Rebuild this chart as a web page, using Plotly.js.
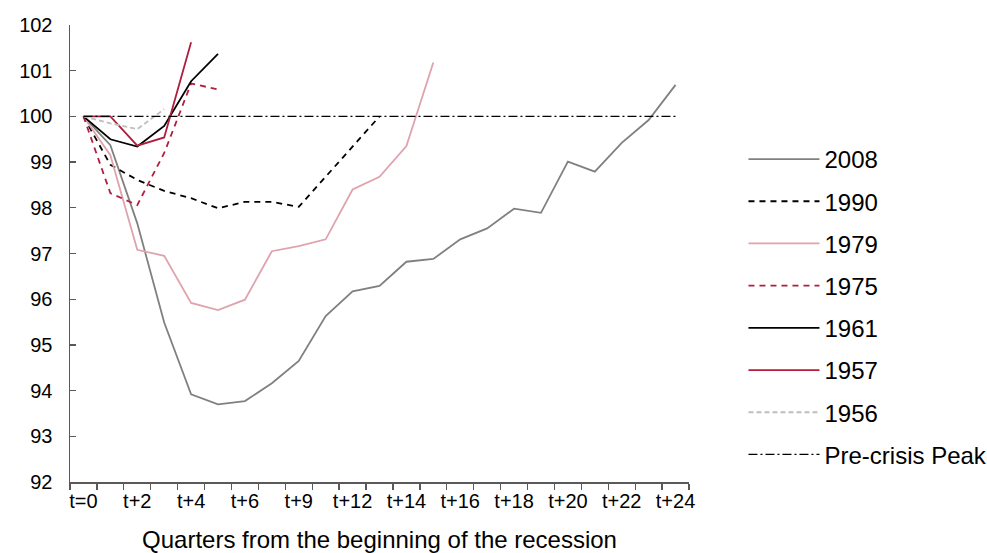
<!DOCTYPE html>
<html>
<head>
<meta charset="utf-8">
<script src="https://cdn.plot.ly/plotly-3.0.1.min.js"></script>
<style>html,body{margin:0;padding:0;background:#fff;}#chart{width:987px;height:553px;}</style>
</head>
<body>
<div id="chart"></div>
<script>
var quarters = ["t=0","t+1","t+2","t+3","t+4","t+5","t+6","t+7","t+9","t+10","t+12","t+13","t+14","t+15","t+16","t+17","t+18","t+19","t+20","t+21","t+22","t+23","t+24"];
var tickLabels = ["t=0","","t+2","","t+4","","t+6","","t+9","","t+12","","t+14","","t+16","","t+18","","t+20","","t+22","","t+24"];

var r2008 = [100, 99.37, 97.66, 95.49, 93.92, 93.70, 93.77, 94.16, 94.65, 95.63, 96.17, 96.29, 96.82, 96.88, 97.31, 97.55, 97.98, 97.89, 99.01, 98.79, 99.42, 99.92, 100.69];
var r1990 = [100, 98.94, 98.61, 98.37, 98.21, 97.99, 98.13, 98.13, 98.02, 98.68, 99.34, 100.0];
var r1979 = [100, 99.15, 97.08, 96.95, 95.92, 95.76, 95.99, 97.05, 97.16, 97.31, 98.40, 98.68, 99.35, 101.18];
var r1975 = [100, 98.32, 98.06, 99.20, 100.72, 100.59];
var r1961 = [100, 99.50, 99.34, 99.79, 100.77, 101.37];
var r1957 = [100, 100.0, 99.36, 99.54, 101.62];
var r1956 = [100, 99.85, 99.72, 100.16];
var peak = [100,100,100,100,100,100,100,100,100,100,100,100,100,100,100,100,100,100,100,100,100,100,100];

function tr(name, vals, color, width, dash) {
  return {
    type: 'scatter', mode: 'lines', name: name, legendgroup: name,
    x: quarters.slice(0, vals.length), y: vals,
    line: {color: color, width: width, dash: dash},
    hoverinfo: 'skip'
  };
}

var data = [
  tr('2008', r2008, '#808080', 1.8, 'solid'),
  tr('1990', r1990, '#000000', 1.8, '6px,5px'),
  tr('1979', r1979, '#DFA3AE', 1.8, 'solid'),
  tr('1975', r1975, '#B01E3E', 1.8, '6px,5px'),
  tr('1961', r1961, '#000000', 1.8, 'solid'),
  tr('1957', r1957, '#B01E3E', 1.8, 'solid'),
  tr('1956', r1956, '#BFBFBF', 1.8, '5px,3px'),
  tr('Pre-crisis Peak', peak, '#000000', 1.2, '9px,3px,2px,3px')
];

var fam = '"Liberation Sans", Arial, sans-serif';

var layout = {
  width: 987, height: 553,
  margin: {l: 70, r: 298, t: 25, b: 71, pad: 0, autoexpand: false},
  paper_bgcolor: '#fff', plot_bgcolor: '#fff',
  font: {family: fam, size: 20, color: '#000'},
  showlegend: true,
  legend: {
    x: 1.088, y: 0.755, xanchor: 'left', yanchor: 'top',
    font: {family: fam, size: 24, color: '#000'},
    itemwidth: 71, tracegroupgap: 8,
    bgcolor: 'rgba(0,0,0,0)', borderwidth: 0
  },
  xaxis: {
    type: 'category', categoryorder: 'array', categoryarray: quarters,
    range: [-0.5, quarters.length - 0.5],
    tickmode: 'array', tickvals: quarters, ticktext: tickLabels, tickangle: 0,
    tickson: 'boundaries', ticks: 'outside', ticklen: 6, tickwidth: 1.3, tickcolor: '#595959',
    showline: true, linecolor: '#595959', linewidth: 1.5,
    showgrid: false, zeroline: false, fixedrange: true,
    tickfont: {family: fam, size: 20, color: '#000'},
    title: {text: 'Quarters from the beginning of the recession', standoff: 20,
            font: {family: fam, size: 24, color: '#000'}}
  },
  yaxis: {
    range: [92, 102], dtick: 1, tick0: 92,
    ticks: 'inside', ticklen: 6, tickwidth: 1.3, tickcolor: '#595959',
    ticklabelstandoff: 12,
    showline: true, linecolor: '#595959', linewidth: 1.5,
    showgrid: false, zeroline: false, fixedrange: true,
    tickfont: {family: fam, size: 20, color: '#000'}
  }
};

Plotly.newPlot('chart', data, layout, {staticPlot: true, displayModeBar: false});
</script>
</body>
</html>
